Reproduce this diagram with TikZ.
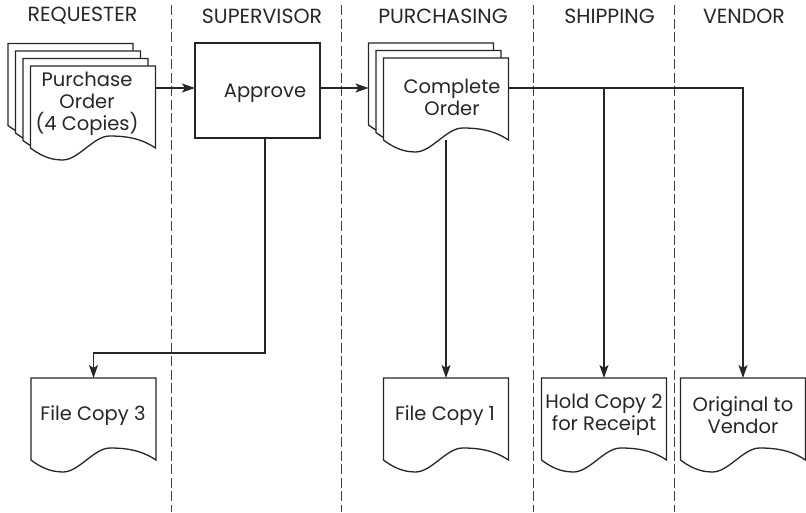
\documentclass[tikz,border=0pt]{standalone}
\usepackage{fontspec}
\setmainfont{Poppins}
\usetikzlibrary{arrows.meta,calc}
\newcommand\mydocframe[1]{\draw[ln,fill=white] (#1.north west) -- (#1.north east) -- (#1.south east)
  .. controls +(-15,-10) and +(16,0) .. ($(#1.south east)+(-46,-12)$)
  .. controls +(-16,0) and +(16,0) .. ($(#1.south west)+(32,12)$)
  .. controls +(-14,0) and +(8,6) .. (#1.south west) -- cycle;}
\begin{document}
\begin{tikzpicture}[x=1pt,y=-1pt,
  ln/.style={line width=1.3pt, draw=black!85},
  arr/.style={ln,-{Stealth[length=13pt,width=9pt,inset=3pt]}},
  lane/.style={line width=1.2pt, draw=black!75, dash pattern=on 10pt off 3.5pt},
  doc/.style={minimum width=125pt, minimum height=82pt, inner sep=0pt, outer sep=0pt},
  box/.style={ln, minimum width=125pt, minimum height=95pt, inner sep=0pt, outer sep=0pt, fill=white},
  txt/.style={font=\fontsize{19.5}{22}\selectfont, align=center, text=black!85, inner sep=0pt},
  hdr/.style={font=\fontsize{20.5}{22}\selectfont, text=black!85, inner sep=0pt}]
\useasboundingbox (0,0) rectangle (806,512);
% swimlane separators
\draw[lane] (171.5,5) -- (171.5,512);
\draw[lane] (341.5,5) -- (341.5,512);
\draw[lane] (533.5,5) -- (533.5,512);
\draw[lane] (674.5,5) -- (674.5,512);
% headers
\node[hdr] (h1) at (82.5,16) {REQUESTER};
\node[hdr] (h2) at (262,16) {SUPERVISOR};
\node[hdr] (h3) at (443,16) {PURCHASING};
\node[hdr] (h4) at (609.5,16) {SHIPPING};
\node[hdr] (h5) at (744,16) {VENDOR};
% purchase order stack
\node[doc] (b1) at (70.5,84.5) {};
\mydocframe{b1}
\node[doc] (b2) at (78,92) {};
\mydocframe{b2}
\node[doc] (b3) at (85.5,99.5) {};
\mydocframe{b3}
\node[doc] (po) at (93,107) {};
\mydocframe{po}
% approve
\node[box] (ap) at (257.5,90.5) {};
% complete order stack
\node[doc] (co1) at (431,84) {};
\mydocframe{co1}
\node[doc] (co2) at (438.5,91.5) {};
\mydocframe{co2}
\node[doc] (co) at (446,99) {};
\mydocframe{co}
% output documents
\node[doc] (fc3) at (93.5,419) {};
\mydocframe{fc3}
\node[doc] (fc1) at (446,419) {};
\mydocframe{fc1}
\node[doc] (hc) at (604,419) {};
\mydocframe{hc}
\node[doc] (ov) at (743,419) {};
\mydocframe{ov}
% connectors
\coordinate (r1) at ($(po.north east)+(0,22)$);
\draw[arr] (r1) -- (r1 -| ap.west);
\coordinate (r2) at ($(ap.north east)+(0,45)$);
\draw[arr] (r2) -- (r2 -| co1.west);
\coordinate (r3) at ($(co.north east)+(0,30)$);
\draw[arr] (r3) -| (ov.north);
\draw[arr] (r3 -| hc.north) -- (hc.north);
\draw[arr] (co.south) -- (fc1.north);
\coordinate (r4) at ($(ap.south)+(7.5,0)$);
\draw[arr] (r4) -- ++(0,215) -| (fc3.north);
% texts
\node[txt] (pot) at (87,104) {Purchase\\Order\\(4 Copies)};
\node[txt] (apt) at (265,93) {Approve};
\node[txt] (cot) at (452,97) {Complete\\Order};
\node[txt] (fc3t) at (93,416) {File Copy 3};
\node[txt] (fc1t) at (445,416) {File Copy 1};
\node[txt] (hct) at (604,415) {Hold Copy 2\\for Receipt};
\node[txt] (ovt) at (743,415) {Original to\\Vendor};
\end{tikzpicture}
\end{document}
